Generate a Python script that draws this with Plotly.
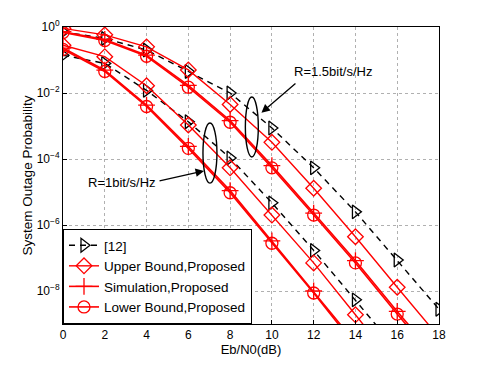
import plotly.graph_objects as go

ebn0 = [0, 2, 4, 6, 8, 10, 12, 14, 16, 18]
ebn0_r1 = [0, 2, 4, 6, 8, 10, 12, 14, 16]

# R = 1.5 bit/s/Hz
ref12_r15 = [7.1e-1, 4.5e-1, 2.0e-1, 4.5e-2, 1.0e-2, 8.7e-4, 5.4e-5, 2.5e-6, 8.7e-8, 2.8e-9]
upper_r15 = [9.1e-1, 5.8e-1, 2.5e-1, 5.0e-2, 4.5e-3, 3.2e-4, 1.3e-5, 4.4e-7, 1.3e-8, 4.0e-10]
sim_r15 = [7.2e-1, 4.2e-1, 1.4e-1, 1.7e-2, 1.45e-3, 6.3e-5, 2.3e-6, 8.3e-8, 2.4e-9, 7.9e-11]
lower_r15 = [6.8e-1, 3.9e-1, 1.3e-1, 1.5e-2, 1.3e-3, 5.4e-5, 2.0e-6, 7.1e-8, 2.0e-9, 6.3e-11]

# R = 1 bit/s/Hz
ref12_r1 = [1.4e-1, 7.9e-2, 1.2e-2, 1.35e-3, 1.07e-4, 4.7e-6, 1.7e-7, 5.4e-9, 1.6e-10]
upper_r1 = [2.8e-1, 1.26e-1, 1.66e-2, 1.07e-3, 5.4e-5, 2.0e-6, 7.1e-8, 1.9e-9, 5.0e-11]
sim_r1 = [2.3e-1, 4.9e-2, 4.3e-3, 2.4e-4, 1.1e-5, 3.3e-7, 1.0e-8, 2.7e-10, 7.9e-12]
lower_r1 = [2.1e-1, 4.5e-2, 3.9e-3, 2.1e-4, 9.5e-6, 2.8e-7, 8.7e-9, 2.2e-10, 6.3e-12]

x_ticks = [0, 2, 4, 6, 8, 10, 12, 14, 16, 18]
y_tickvals = [1, 1e-2, 1e-4, 1e-6, 1e-8]
y_ticktext = ["10<sup>0</sup>", "10<sup>−2</sup>", "10<sup>−4</sup>", "10<sup>−6</sup>", "10<sup>−8</sup>"]

RED = "#ff0000"
fig = go.Figure()

def add(x, y, name, color, dash, symbol, size, width, show):
    fig.add_trace(go.Scatter(
        x=x, y=y, name=name, mode="lines+markers", showlegend=show,
        line=dict(color=color, dash=dash, width=width),
        marker=dict(symbol=symbol, size=size, color=color,
                    line=dict(color=color, width=1.3)),
    ))

for i, (xx, r12, up, sim, lo) in enumerate([
        (ebn0, ref12_r15, upper_r15, sim_r15, lower_r15),
        (ebn0_r1, ref12_r1, upper_r1, sim_r1, lower_r1)]):
    show = i == 0
    add(xx, r12, "[12]", "black", "6px,5px", "triangle-right-open", 12, 1.4, show)
    add(xx, up, "Upper Bound,Proposed", RED, "solid", "diamond-open", 12, 1.4, show)
    add(xx, sim, "Simulation,Proposed", RED, "solid", "cross-thin-open", 12, 1.6, show)
    add(xx, lo, "Lower Bound,Proposed", RED, "solid", "circle-open", 12, 1.6, show)

# ellipses (annotations)
fig.add_shape(type="circle", xref="x", yref="y", x0=8.73, x1=9.35,
              y0=10**-3.94, y1=10**-2.12, line=dict(color="black", width=1.4))
fig.add_shape(type="circle", xref="x", yref="y", x0=6.70, x1=7.37,
              y0=10**-4.73, y1=10**-2.91, line=dict(color="black", width=1.4))

# arrows
fig.add_annotation(x=9.5, y=-2.6, ax=11.2, ay=-1.67, xref="x", yref="y",
                   axref="x", ayref="y", text="", showarrow=True,
                   arrowhead=2, arrowsize=1.3, arrowwidth=1.3, arrowcolor="black")
fig.add_annotation(x=6.75, y=-4.36, ax=4.55, ay=-4.67, xref="x", yref="y",
                   axref="x", ayref="y", text="", showarrow=True,
                   arrowhead=2, arrowsize=1.3, arrowwidth=1.3, arrowcolor="black")
fig.add_annotation(x=10.95, y=-1.36, xref="x", yref="y", text="R=1.5bit/s/Hz",
                   showarrow=False, xanchor="left", yanchor="middle",
                   font=dict(size=13, color="black"))
fig.add_annotation(x=4.55, y=-4.7, xref="x", yref="y", text="R=1bit/s/Hz",
                   showarrow=False, xanchor="right", yanchor="middle",
                   font=dict(size=13, color="black"))

axis_common = dict(showline=True, linecolor="black", linewidth=1, mirror=True,
                   ticks="inside", ticklen=4, tickcolor="black",
                   showgrid=True, gridcolor="#b0b0b0", griddash="dot", gridwidth=1,
                   zeroline=False, tickfont=dict(size=12, color="black"),
                   automargin=False)

fig.update_xaxes(range=[0, 18], tickvals=x_ticks,
                 title=dict(text="Eb/N0(dB)", font=dict(size=13, color="black"), standoff=0),
                 **axis_common)
fig.update_yaxes(type="log", range=[-9, 0], tickvals=y_tickvals, ticktext=y_ticktext,
                 title=dict(text="System Outage Probability", font=dict(size=13.5, color="black"), standoff=0),
                 **axis_common)

fig.update_layout(
    width=485, height=365,
    margin=dict(l=63, r=46, t=27, b=41),
    paper_bgcolor="white", plot_bgcolor="white",
    font=dict(family="Liberation Sans, Arial, sans-serif", size=12, color="black"),
    legend=dict(x=0, y=0, xanchor="left", yanchor="bottom",
                bgcolor="white", bordercolor="black", borderwidth=1,
                font=dict(size=13.5), tracegroupgap=0, itemwidth=30),
)

fig.write_html("out.html", config={"displayModeBar": False},
               post_script="document.body.style.margin='0';document.body.style.overflow='hidden';")
